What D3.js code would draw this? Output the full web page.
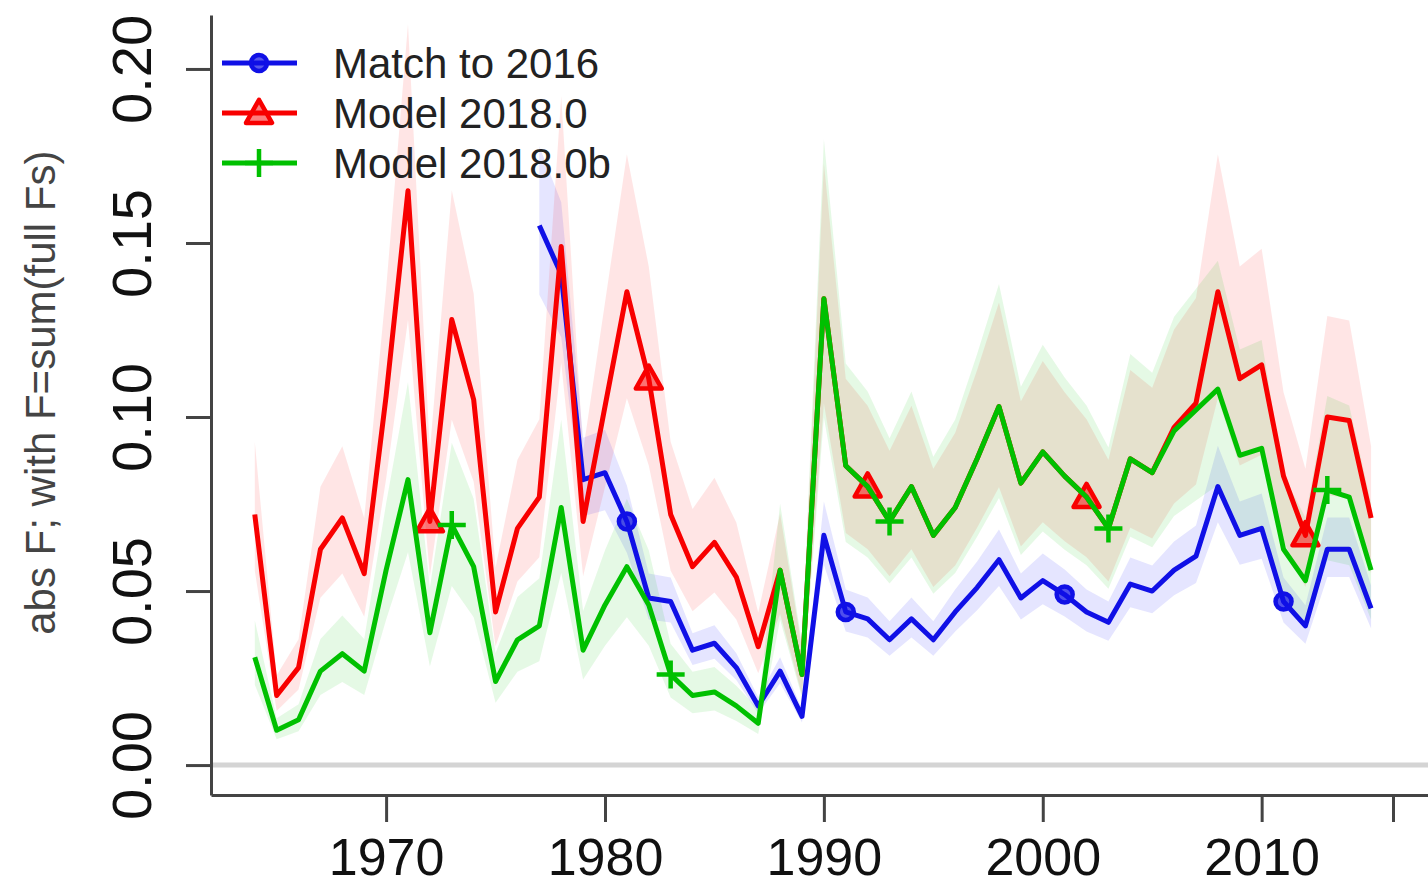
<!DOCTYPE html>
<html>
<head>
<meta charset="utf-8">
<script src="https://cdn.jsdelivr.net/npm/d3@7"></script>
<style>
  body { margin: 0; background: #fff; }
  svg { display: block; font-family: "Liberation Sans", Arial, sans-serif; }
</style>
</head>
<body>
<svg id="chart" width="1428" height="887"></svg>
<script>
// ---------------- DATA ----------------
const years = [
  1964, 1965, 1966, 1967, 1968, 1969, 1970, 1971, 1972, 1973,
  1974, 1975, 1976, 1977, 1978, 1979, 1980, 1981, 1982, 1983,
  1984, 1985, 1986, 1987, 1988, 1989, 1990, 1991, 1992, 1993,
  1994, 1995, 1996, 1997, 1998, 1999, 2000, 2001, 2002, 2003,
  2004, 2005, 2006, 2007, 2008, 2009, 2010, 2011, 2012, 2013,
  2014, 2015
];

// Model 2018.0 (red), 1964-2015
const model2018 = [
  0.072, 0.020, 0.028, 0.062, 0.071, 0.055, 0.106, 0.165, 0.070, 0.128,
  0.105, 0.044, 0.068, 0.077, 0.149, 0.070, 0.103, 0.136, 0.111, 0.072,
  0.057, 0.064, 0.054, 0.034, 0.056, 0.026, 0.134, 0.086, 0.080, 0.070,
  0.080, 0.066, 0.074, 0.088, 0.103, 0.081, 0.090, 0.083, 0.077, 0.068,
  0.088, 0.084, 0.097, 0.104, 0.136, 0.111, 0.115, 0.083, 0.066, 0.100,
  0.099, 0.071
];

// Model 2018.0b (green), 1964-2015
const model2018b = [
  0.031, 0.010, 0.013, 0.027, 0.032, 0.027, 0.056, 0.082, 0.038, 0.069,
  0.057, 0.024, 0.036, 0.040, 0.074, 0.033, 0.046, 0.057, 0.046, 0.026,
  0.020, 0.021, 0.017, 0.012, 0.056, 0.026, 0.134, 0.086, 0.080, 0.070,
  0.080, 0.066, 0.074, 0.088, 0.103, 0.081, 0.090, 0.083, 0.077, 0.068,
  0.088, 0.084, 0.096, 0.102, 0.108, 0.089, 0.091, 0.062, 0.053, 0.079,
  0.077, 0.056
];

// Match to 2016 (blue), 1977-2015
const matchYears = years.slice(13);
const match2016 = [
  0.155, 0.141, 0.082, 0.084, 0.070, 0.048, 0.047, 0.033, 0.035, 0.028,
  0.017, 0.027, 0.014, 0.066, 0.044, 0.042, 0.036, 0.042, 0.036, 0.044,
  0.051, 0.059, 0.048, 0.053, 0.049, 0.044, 0.041, 0.052, 0.050, 0.056,
  0.060, 0.080, 0.066, 0.068, 0.047, 0.040, 0.062, 0.062, 0.045
];

const yTicks = [0, 0.05, 0.10, 0.15, 0.20];
const xTicks = [1970, 1980, 1990, 2000, 2010, 2016];
const xLabelled = [1970, 1980, 1990, 2000, 2010];

const seriesNames = ["Match to 2016", "Model 2018.0", "Model 2018.0b"];

// log-scale spread used for the shaded uncertainty bands
const bandSD = [0.07, 0.13, 0.15];

// ---------------- SETUP ----------------
const svg = d3.select("#chart");

const x = d3.scaleLinear().domain([1962, 2017.6]).range([211, 1428]);
const y = d3.scaleLinear().domain([-0.0086, 0.2155]).range([795, 15]);

const series = [
  { name: seriesNames[0], yrs: matchYears, vals: match2016, color: "#1010e6", band: "rgba(40,40,255,0.12)", sd: bandSD[0], mark: "circle", markStart: 1981 },
  { name: seriesNames[1], yrs: years, vals: model2018, color: "#f80000", band: "rgba(255,0,0,0.10)", sd: bandSD[1], mark: "triangle", markStart: 1972 },
  { name: seriesNames[2], yrs: years, vals: model2018b, color: "#00c000", band: "rgba(0,200,0,0.10)", sd: bandSD[2], mark: "plus", markStart: 1973 }
];

// ---------------- BANDS ----------------
series.forEach(s => {
  const pts = s.yrs.map((yr, i) => ({ yr: yr, v: s.vals[i] }));
  const area = d3.area()
    .x(d => x(d.yr))
    .y0(d => y(d.v * Math.exp(-1.96 * s.sd)))
    .y1(d => y(d.v * Math.exp(1.96 * s.sd)));
  svg.append("path")
    .datum(pts)
    .attr("d", area)
    .attr("fill", s.band);
});

// zero reference line
svg.append("line")
  .attr("x1", x(1962)).attr("x2", 1428)
  .attr("y1", y(0)).attr("y2", y(0))
  .attr("stroke", "#d4d4d4")
  .attr("stroke-width", 5);

// ---------------- AXES ----------------
const yAxis = svg.append("g")
  .attr("transform", `translate(${x(1962)},0)`)
  .call(d3.axisLeft(y).tickValues(yTicks).tickFormat(d3.format(".2f")).tickSize(25).tickSizeOuter(0));

yAxis.select(".domain").attr("stroke", "#444").attr("stroke-width", 3);
yAxis.selectAll(".tick line").attr("stroke", "#444").attr("stroke-width", 3);
yAxis.selectAll(".tick text")
  .attr("x", null).attr("dy", null)
  .attr("text-anchor", "middle")
  .attr("transform", "translate(-60,0) rotate(-90)")
  .attr("fill", "#111")
  .style("font-size", "56px");

const xAxis = svg.append("g")
  .attr("transform", `translate(0,${y(-0.0086)})`)
  .call(d3.axisBottom(x).tickValues(xTicks)
    .tickFormat(d => xLabelled.includes(d) ? String(d) : "")
    .tickSize(27).tickSizeOuter(0));

xAxis.select(".domain").attr("stroke", "#444").attr("stroke-width", 3);
xAxis.selectAll(".tick line").attr("stroke", "#444").attr("stroke-width", 3);
xAxis.selectAll(".tick text")
  .attr("y", 43)
  .attr("dy", "0.71em")
  .attr("fill", "#111")
  .style("font-size", "52px");

// y axis title
svg.append("text")
  .attr("transform", `translate(55,${y(0.107)}) rotate(-90)`)
  .attr("text-anchor", "middle")
  .attr("fill", "#444")
  .style("font-size", "42px")
  .text("abs F; with F=sum(full Fs)");

// ---------------- LINES ----------------
const line = d3.line().x(d => x(d.yr)).y(d => y(d.v));

function drawMark(g, kind, cx, cy, color) {
  if (kind === "circle") {
    g.append("circle")
      .attr("cx", cx).attr("cy", cy).attr("r", 8)
      .attr("fill", color).attr("fill-opacity", 0.7)
      .attr("stroke", color).attr("stroke-width", 4.5);
  } else if (kind === "triangle") {
    const h = 22, w = 13;
    g.append("path")
      .attr("d", `M${cx},${cy - h * 0.6} L${cx + w},${cy + h * 0.45} L${cx - w},${cy + h * 0.45} Z`)
      .attr("fill", color).attr("fill-opacity", 0.5)
      .attr("stroke", color).attr("stroke-width", 4.5)
      .attr("stroke-linejoin", "round");
  } else {
    g.append("path")
      .attr("d", `M${cx - 14},${cy} H${cx + 14} M${cx},${cy - 14} V${cy + 14}`)
      .attr("stroke", color).attr("stroke-width", 4.5);
  }
}

series.forEach(s => {
  const pts = s.yrs.map((yr, i) => ({ yr: yr, v: s.vals[i] }));
  svg.append("path")
    .datum(pts)
    .attr("d", line)
    .attr("fill", "none")
    .attr("stroke", s.color)
    .attr("stroke-width", 5)
    .attr("stroke-linejoin", "round");

  const g = svg.append("g");
  pts.filter(d => (d.yr - s.markStart) % 10 === 0 && d.yr >= s.markStart)
    .forEach(d => drawMark(g, s.mark, x(d.yr), y(d.v), s.color));
});

// ---------------- LEGEND ----------------
const legend = svg.append("g");
series.forEach((s, i) => {
  const ly = 63 + i * 50;
  legend.append("line")
    .attr("x1", 222).attr("x2", 297)
    .attr("y1", ly).attr("y2", ly)
    .attr("stroke", s.color)
    .attr("stroke-width", 5);
  drawMark(legend, s.mark, 259, ly, s.color);
  legend.append("text")
    .attr("x", 333).attr("y", ly + 15)
    .attr("fill", "#222")
    .style("font-size", "42px")
    .text(s.name);
});
</script>
</body>
</html>
